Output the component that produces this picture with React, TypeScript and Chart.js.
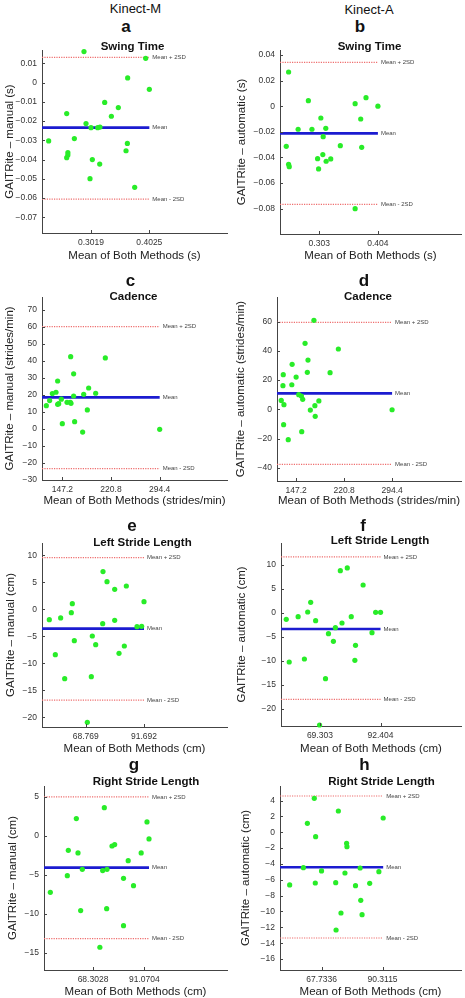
import React, { useEffect, useRef } from "react";
import { Chart, registerables } from "chart.js";

Chart.register(...registerables);

const FONT = "'Liberation Sans', Arial, Helvetica, sans-serif";
Chart.defaults.font.family = FONT;

// ---------------- data ----------------
// a: Swing Time, Kinect-M
const aX = [0.2898, 0.3962, 0.3651, 0.4025, 0.3255, 0.349, 0.337, 0.26, 0.2933, 0.3019, 0.3134, 0.3174, 0.2289, 0.2732, 0.3646, 0.3623, 0.262, 0.262, 0.26, 0.3042, 0.3169, 0.3002, 0.3772];
const aY = [0.0161, 0.0126, 0.0024, -0.0035, -0.0103, -0.013, -0.0175, -0.0161, -0.0213, -0.0234, -0.0234, -0.0231, -0.0303, -0.0291, -0.0316, -0.0354, -0.0364, -0.0376, -0.039, -0.04, -0.0423, -0.0499, -0.0544];
const aStats = [-0.0234, 0.0131, -0.0605];
const aXTicks = [0.3019, 0.4025];
const aYTicks = [-0.07, -0.06, -0.05, -0.04, -0.03, -0.02, -0.01, 0, 0.01];
const aXRange = [0.2174, 0.5364];
const aYRange = [-0.0781, 0.0169];

// b: Swing Time, Kinect-A
const bX = [0.2503, 0.2843, 0.3648, 0.3835, 0.404, 0.3058, 0.3744, 0.2667, 0.2905, 0.3143, 0.3098, 0.2463, 0.3393, 0.3761, 0.3092, 0.3002, 0.3149, 0.3228, 0.2503, 0.2514, 0.3019, 0.3648];
const bY = [0.0267, 0.0043, 0.002, 0.0067, 0.0, -0.0092, -0.01, -0.018, -0.018, -0.0173, -0.0238, -0.0313, -0.0308, -0.0321, -0.0378, -0.041, -0.043, -0.0412, -0.0454, -0.0472, -0.049, -0.08];
const bStats = [-0.0212, 0.0343, -0.0766];
const bXTicks = [0.303, 0.404];
const bYTicks = [-0.08, -0.06, -0.04, -0.02, 0, 0.02, 0.04];
const bXRange = [0.2355, 0.547];
const bYRange = [-0.0998, 0.0439];

// c: Cadence, Kinect-M
const cX = [123.0, 128.0, 132.1, 137.6, 140.1, 140.1, 141.7, 145.7, 147.2, 154.3, 159.3, 160.3, 159.8, 164.3, 164.3, 165.8, 177.9, 179.5, 185.0, 187.0, 197.6, 212.2, 294.4];
const cY = [13.7, 16.7, 20.8, 21.6, 28.2, 14.5, 14.9, 17.5, 3.1, 15.7, 15.7, 15.1, 42.5, 32.4, 19.4, 4.3, -1.8, 20.4, 11.2, 24.1, 21.0, 41.8, -0.2];
const cStats = [18.6, 60.2, -23.3];
const cXTicks = [147.2, 220.8, 294.4];
const cYTicks = [-30, -20, -10, 0, 10, 20, 30, 40, 50, 60, 70];
const cXRange = [116.45, 396.2];
const cYRange = [-30, 77.6];

// d: Cadence, Kinect-A
const dX = [174.5, 160.9, 212.0, 165.4, 141.1, 164.4, 199.3, 127.5, 147.2, 127.0, 140.6, 151.2, 155.3, 157.3, 124.4, 128.5, 182.1, 176.0, 169.0, 176.5, 294.4, 128.0, 155.8, 135.1];
const dY = [60.9, 45.2, 41.3, 33.7, 30.8, 25.3, 25.1, 23.7, 22.1, 16.2, 16.8, 10.0, 9.1, 6.8, 6.1, 3.2, 5.7, 2.5, -0.5, -4.8, -0.3, -10.5, -15.3, -20.8];
const dStats = [10.9, 59.5, -37.7];
const dXTicks = [147.2, 220.8, 294.4];
const dYTicks = [-40, -20, 0, 20, 40, 60];
const dXRange = [117.87, 400.1];
const dYRange = [-49.1, 76.9];

// e: Left Stride Length, Kinect-M
const eX = [75.58, 77.15, 84.75, 80.17, 91.69, 63.53, 63.13, 54.49, 58.94, 75.45, 80.17, 88.94, 90.77, 71.38, 64.31, 72.7, 83.96, 81.87, 56.85, 60.52, 70.99, 69.42];
const eY = [6.98, 5.12, 4.32, 3.7, 1.42, 1.05, -0.62, -1.91, -1.6, -2.65, -2.04, -3.21, -3.15, -4.94, -5.8, -6.54, -6.79, -8.15, -8.4, -12.84, -12.47, -20.93];
const eStats = [-3.58, 9.57, -16.8];
const eXTicks = [68.769, 91.692];
const eYTicks = [-20, -15, -10, -5, 0, 5, 10];
const eXRange = [51.61, 124.3];
const eYRange = [-21.79, 12.28];

// f: Left Stride Length, Kinect-A
const fX = [79.73, 77.09, 85.76, 65.79, 64.66, 61.01, 56.49, 67.67, 81.24, 77.72, 90.53, 92.4, 75.21, 72.57, 89.15, 74.45, 82.87, 57.62, 63.4, 82.62, 71.44, 69.18];
const fY = [9.31, 8.75, 5.76, 2.15, 0.14, -0.83, -1.39, -1.67, -0.83, -2.15, 0.07, 0.07, -3.13, -4.38, -4.17, -5.97, -6.81, -10.28, -9.65, -9.93, -13.75, -23.4];
const fStats = [-3.4, 11.6, -18.06];
const fXTicks = [69.303, 92.404];
const fYTicks = [-20, -15, -10, -5, 0, 5, 10];
const fXRange = [54.49, 123.04];
const fYRange = [-23.61, 14.51];

// g: Right Stride Length, Kinect-M
const gX = [73.33, 60.91, 92.25, 93.14, 76.73, 77.91, 57.36, 61.65, 89.67, 83.91, 63.57, 72.59, 74.51, 56.92, 81.84, 86.27, 49.38, 62.83, 74.36, 81.84, 71.35];
const gY = [3.63, 2.22, 1.79, -0.39, -1.3, -1.12, -1.85, -2.19, -2.19, -3.18, -4.29, -4.46, -4.29, -5.11, -5.45, -6.39, -7.25, -9.6, -9.35, -11.53, -14.31];
const gStats = [-4.08, 5.0, -13.2];
const gXTicks = [68.3028, 91.0704];
const gYTicks = [-15, -10, -5, 0, 5];
const gXRange = [46.57, 127.73];
const gYRange = [-17.23, 6.41];

// h: Right Stride Length, Kinect-A
const hX = [65.05, 73.96, 90.55, 62.49, 65.54, 77.01, 77.13, 61.02, 82.01, 67.73, 88.96, 76.4, 55.94, 65.42, 72.98, 80.3, 85.55, 82.25, 74.93, 82.74, 73.11];
const hY = [4.29, 2.69, 1.81, 1.14, -0.55, -1.39, -1.81, -4.46, -4.51, -4.88, -4.97, -5.14, -6.65, -6.4, -6.36, -6.74, -6.44, -8.59, -10.19, -10.4, -12.34];
const hStats = [-4.42, 4.59, -13.35];
const hXTicks = [67.7336, 90.3115];
const hYTicks = [-16, -14, -12, -10, -8, -6, -4, -2, 0, 2, 4];
const hXRange = [52.36, 119.35];
const hYRange = [-17.39, 5.85];

const refLabels = ["Mean", "Mean + 2SD", "Mean - 2SD"];

// ---------------- layout ----------------
const PANELS = [
  { key: "a", xs: aX, ys: aY, stats: aStats, xTicks: aXTicks, yTicks: aYTicks, xRange: aXRange, yRange: aYRange, yTitle: "GAITRite – manual (s)", xTitle: "Mean of Both Methods (s)", col: 0, plot: [42, 50, 227, 233], yTitleX: 10, xTitleY: 256 },
  { key: "b", xs: bX, ys: bY, stats: bStats, xTicks: bXTicks, yTicks: bYTicks, xRange: bXRange, yRange: bYRange, yTitle: "GAITRite – automatic (s)", xTitle: "Mean of Both Methods (s)", col: 1, plot: [280, 50, 463, 234], yTitleX: 242, xTitleY: 256 },
  { key: "c", xs: cX, ys: cY, stats: cStats, xTicks: cXTicks, yTicks: cYTicks, xRange: cXRange, yRange: cYRange, yTitle: "GAITRite – manual (strides/min)", xTitle: "Mean of Both Methods (strides/min)", col: 0, plot: [42, 297, 227, 480], yTitleX: 10, xTitleY: 501 },
  { key: "d", xs: dX, ys: dY, stats: dStats, xTicks: dXTicks, yTicks: dYTicks, xRange: dXRange, yRange: dYRange, yTitle: "GAITRite – automatic (strides/min)", xTitle: "Mean of Both Methods (strides/min)", col: 1, plot: [277, 297, 463, 481], yTitleX: 241, xTitleY: 501 },
  { key: "e", xs: eX, ys: eY, stats: eStats, xTicks: eXTicks, yTicks: eYTicks, xRange: eXRange, yRange: eYRange, yTitle: "GAITRite – manual (cm)", xTitle: "Mean of Both Methods (cm)", col: 0, plot: [42, 543, 227, 727], yTitleX: 11, xTitleY: 749 },
  { key: "f", xs: fX, ys: fY, stats: fStats, xTicks: fXTicks, yTicks: fYTicks, xRange: fXRange, yRange: fYRange, yTitle: "GAITRite – automatic (cm)", xTitle: "Mean of Both Methods (cm)", col: 1, plot: [281, 543, 463, 726], yTitleX: 242, xTitleY: 749 },
  { key: "g", xs: gX, ys: gY, stats: gStats, xTicks: gXTicks, yTicks: gYTicks, xRange: gXRange, yRange: gYRange, yTitle: "GAITRite – manual (cm)", xTitle: "Mean of Both Methods (cm)", col: 0, plot: [44, 786, 227, 970], yTitleX: 13, xTitleY: 992 },
  { key: "h", xs: hX, ys: hY, stats: hStats, xTicks: hXTicks, yTicks: hYTicks, xRange: hXRange, yRange: hYRange, yTitle: "GAITRite – automatic (cm)", xTitle: "Mean of Both Methods (cm)", col: 1, plot: [280, 786, 463, 970], yTitleX: 246, xTitleY: 992 },
];

const TEXTS = [
  { t: "Kinect-M", x: 135.5, b: 13.3, s: 13, w: 400 },
  { t: "Kinect-A", x: 369, b: 13.6, s: 13, w: 400 },
  { t: "a", x: 126, b: 32.3, s: 17, w: 700 },
  { t: "b", x: 360, b: 32.3, s: 17, w: 700 },
  { t: "c", x: 130.5, b: 286, s: 17, w: 700 },
  { t: "d", x: 364, b: 286, s: 17, w: 700 },
  { t: "e", x: 132, b: 531.7, s: 17, w: 700 },
  { t: "f", x: 363, b: 531, s: 17, w: 700 },
  { t: "g", x: 134, b: 770, s: 17, w: 700 },
  { t: "h", x: 364.5, b: 770, s: 17, w: 700 },
  { t: "Swing Time", x: 132.5, b: 50.7, s: 11.5, w: 700 },
  { t: "Swing Time", x: 369.5, b: 50.7, s: 11.5, w: 700 },
  { t: "Cadence", x: 133.5, b: 300.7, s: 11.5, w: 700 },
  { t: "Cadence", x: 368, b: 301, s: 11.5, w: 700 },
  { t: "Left Stride Length", x: 142.5, b: 546.7, s: 11.5, w: 700 },
  { t: "Left Stride Length", x: 380, b: 545, s: 11.5, w: 700 },
  { t: "Right Stride Length", x: 146, b: 785.7, s: 11.5, w: 700 },
  { t: "Right Stride Length", x: 381.5, b: 785.7, s: 11.5, w: 700 },
];

const GREEN = "rgb(40,236,40)";
const BLUE = "#1c1cd0";
const RED = "#ee6e6e";

const refLabelPlugin = {
  id: "refLabels",
  afterDatasetsDraw(chart: any) {
    const ctx = chart.ctx;
    chart.data.datasets.forEach((ds: any, i: number) => {
      if (!ds.refLabel) return;
      const meta = chart.getDatasetMeta(i);
      const pt = meta.data[meta.data.length - 1];
      ctx.save();
      ctx.font = `6px ${FONT}`;
      ctx.fillStyle = "#444";
      ctx.textBaseline = "middle";
      ctx.textAlign = "left";
      ctx.fillText(ds.refLabel, pt.x + 3, pt.y);
      ctx.restore();
    });
  },
};

const innerTicksPlugin = {
  id: "innerTicks",
  afterDraw(chart: any) {
    const { ctx, chartArea, scales } = chart;
    ctx.save();
    ctx.strokeStyle = "#444";
    ctx.lineWidth = 1;
    ctx.beginPath();
    scales.x.ticks.forEach((t: any) => {
      const px = Math.round(scales.x.getPixelForValue(t.value)) + 0.5;
      ctx.moveTo(px, chartArea.bottom);
      ctx.lineTo(px, chartArea.bottom - 3);
    });
    scales.y.ticks.forEach((t: any) => {
      const py = Math.round(scales.y.getPixelForValue(t.value)) + 0.5;
      ctx.moveTo(chartArea.left, py);
      ctx.lineTo(chartArea.left + 3, py);
    });
    ctx.stroke();
    ctx.restore();
  },
};

const fmt = (v: number) => String(v).replace("-", "\u2212");

function PanelChart({ p }: { p: any }) {
  const ref = useRef<HTMLCanvasElement>(null);
  const [L, T, R, B] = p.plot;
  const cx = p.col * 232;
  const cw = p.col ? 233 : 232;
  const cy = T - 12;
  const bottom = Math.min(998, Math.ceil(p.xTitleY + 8));
  const ch = bottom - cy;

  useEffect(() => {
    const xMin = p.xRange[0];
    const xEnd = Math.max(...p.xs);
    const [mean, upper, lower] = p.stats;
    const line = (y: number, color: string, width: number, dash: number[], label: string) => ({
      data: [{ x: xMin, y }, { x: xEnd, y }],
      showLine: true,
      borderColor: color,
      borderWidth: width,
      borderDash: dash,
      pointRadius: 0,
      refLabel: label,
    });
    const chart = new Chart(ref.current as HTMLCanvasElement, {
      type: "scatter",
      data: {
        datasets: [
          {
            data: p.xs.map((x: number, i: number) => ({ x, y: p.ys[i] })),
            backgroundColor: GREEN,
            borderWidth: 0,
            pointRadius: 2.6,
            clip: false,
          } as any,
          line(mean, BLUE, 2.6, [], refLabels[0]),
          line(upper, RED, 1.2, [1.2, 1.2], refLabels[1]),
          line(lower, RED, 1.2, [1.2, 1.2], refLabels[2]),
        ],
      },
      options: {
        animation: false,
        responsive: false,
        devicePixelRatio: 1,
        events: [],
        layout: { padding: { left: 0, top: 12, right: cx + cw - R, bottom: 0 } },
        plugins: { legend: { display: false }, tooltip: { enabled: false }, title: { display: false } },
        scales: {
          x: {
            type: "linear",
            bounds: "data",
            min: p.xRange[0],
            max: p.xRange[1],
            afterBuildTicks: (s: any) => {
              s.ticks = p.xTicks.map((v: number) => ({ value: v }));
            },
            afterFit: (s: any) => {
              s.height = bottom - B;
            },
            ticks: { callback: (v: any) => fmt(v), font: { size: 8.5 }, color: "#333", padding: 5, autoSkip: false, maxRotation: 0 },
            grid: { display: true, drawOnChartArea: false, drawTicks: false },
            border: { display: true, color: "#444", width: 1 },
            title: {
              display: true,
              text: p.xTitle,
              color: "#222",
              font: { size: 11.5, lineHeight: 1 },
              padding: { top: 0, bottom: bottom - p.xTitleY - 5.75 },
            },
          },
          y: {
            type: "linear",
            bounds: "data",
            min: p.yRange[0],
            max: p.yRange[1],
            afterBuildTicks: (s: any) => {
              s.ticks = [...p.yTicks].sort((m: number, n: number) => m - n).map((v: number) => ({ value: v }));
            },
            afterFit: (s: any) => {
              s.width = L - cx;
            },
            ticks: { callback: (v: any) => fmt(v), font: { size: 8.5 }, color: "#333", padding: 5, autoSkip: false },
            grid: { display: true, drawOnChartArea: false, drawTicks: false },
            border: { display: true, color: "#444", width: 1 },
            title: {
              display: true,
              text: p.yTitle,
              color: "#222",
              font: { size: 11.5, lineHeight: 1.2 },
              padding: { top: p.yTitleX - cx - 6.9, bottom: 0 },
            },
          },
        },
      } as any,
      plugins: [refLabelPlugin, innerTicksPlugin],
    });
    return () => chart.destroy();
  }, []);

  return (
    <canvas
      ref={ref}
      width={cw}
      height={ch}
      style={{ position: "absolute", left: cx, top: cy, width: cw, height: ch, display: "block" }}
    />
  );
}

export default function App() {
  return (
    <div
      style={{
        position: "absolute",
        left: 0,
        top: 0,
        width: 465,
        height: 998,
        overflow: "hidden",
        background: "#fff",
        fontFamily: FONT,
      }}
    >
      {PANELS.map((p) => (
        <PanelChart key={p.key} p={p} />
      ))}
      {TEXTS.map((t, i) => (
        <div
          key={i}
          style={{
            position: "absolute",
            left: t.x,
            top: t.b - 0.8465 * t.s,
            transform: "translateX(-50%)",
            fontSize: t.s,
            lineHeight: `${t.s}px`,
            fontWeight: t.w,
            color: "#111",
            whiteSpace: "nowrap",
            zIndex: 2,
          }}
        >
          {t.t}
        </div>
      ))}
    </div>
  );
}
